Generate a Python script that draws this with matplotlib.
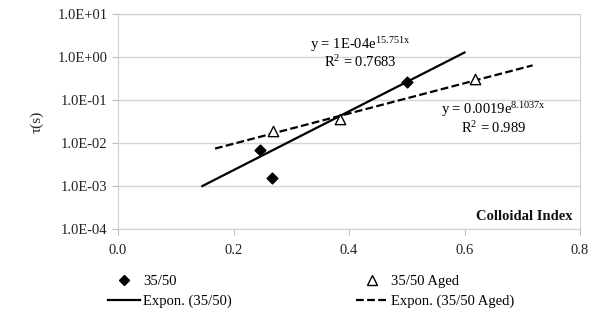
import numpy as np
import matplotlib.pyplot as plt
from matplotlib.lines import Line2D

plt.rcParams['font.family'] = ['Liberation Serif', 'DejaVu Serif']
plt.rcParams['mathtext.fontset'] = 'custom'
plt.rcParams['mathtext.rm'] = 'Liberation Serif'
plt.rcParams['mathtext.it'] = 'Liberation Serif'

# data
ci_plain = [0.246, 0.267, 0.500]
tau_plain = [0.0069, 0.00155, 0.26]
ci_aged = [0.268, 0.384, 0.618]
tau_aged = [0.019, 0.036, 0.31]

# exponential trendlines as printed on the chart
fit_plain = (1e-4, 15.751, 0.7683)
fit_aged = (0.0019, 8.1037, 0.989)
forecast = 0.1

xticks = [0.0, 0.2, 0.4, 0.6, 0.8]
yticks = [1e-4, 1e-3, 1e-2, 1e-1, 1e0, 1e1]
ylabels = ['1.0E-04', '1.0E-03', '1.0E-02', '1.0E-01', '1.0E+00', '1.0E+01']

fig = plt.figure(figsize=(6.07, 3.27), dpi=100)
ax = fig.add_axes([118 / 607, 1 - 229 / 327, (580 - 118) / 607, (229 - 14) / 327])

def trend(xs, fit):
    x = np.linspace(min(xs) - forecast, max(xs) + forecast, 100)
    return x, fit[0] * np.exp(fit[1] * x)

tx, ty = trend(ci_plain, fit_plain)
ax.plot(tx, ty, color='black', lw=1.6, zorder=3)
tx, ty = trend(ci_aged, fit_aged)
ax.plot(tx, ty, color='black', lw=1.6, ls=(0, (3.5, 1.5)), zorder=3)

ax.scatter(ci_plain, tau_plain, marker='D', s=30, color='black', zorder=4)
ax.scatter(ci_aged, tau_aged, marker='^', s=55, facecolor='white', edgecolor='black',
           linewidths=1.0, zorder=4)

ax.set_yscale('log')
ax.set_xlim(0, 0.8)
ax.set_ylim(1e-4, 1e1)
ax.set_xticks(xticks)
ax.set_xticklabels([f'{v:.1f}' for v in xticks])
ax.set_yticks(yticks)
ax.set_yticklabels(ylabels)
ax.minorticks_off()
ax.yaxis.grid(True, color='#d4d4d4', lw=1)
ax.set_axisbelow(True)
for s in ax.spines.values():
    s.set_color('#d0d0d0')
ax.tick_params(axis='both', colors='#bdbdbd', labelcolor='#222222', labelsize=10.5, length=4)
ax.tick_params(axis='x', pad=7)
ax.set_ylabel('τ(s)', fontsize=11, color='#222222', labelpad=10)

ax.text(0.985, 0.056, 'Colloidal Index', transform=ax.transAxes, ha='right', va='center',
        fontsize=10.5, fontweight='bold', color='#111111')

def eq_text(fit):
    a = '1E-04' if fit[0] < 1e-3 else f'{fit[0]:g}'
    return f'y = {a}e$^{{\\mathrm{{{fit[1]:g}x}}}}$\nR$^{{\\mathrm{{2}}}}$ = {fit[2]:g}'

ax.text(0.524, 0.82, eq_text(fit_plain), transform=ax.transAxes,
        ha='center', va='center', fontsize=10.5, linespacing=1.05)
ax.text(0.812, 0.515, eq_text(fit_aged), transform=ax.transAxes,
        ha='center', va='center', fontsize=10.5, linespacing=1.05)

# legend below the plot (column-wise fill -> row order as in the chart)
handles = [
    Line2D([], [], ls='none', marker='D', ms=5, color='black'),
    Line2D([], [], color='black', lw=1.6),
    Line2D([], [], ls='none', marker='^', ms=7, mfc='white', mec='black'),
    Line2D([], [], color='black', lw=1.6, ls=(0, (3.5, 1.5))),
]
labels = ['35/50', 'Expon. (35/50)', '35/50 Aged', 'Expon. (35/50 Aged)']
fig.legend(handles, labels, ncol=2, loc='upper left', bbox_to_anchor=(95 / 607, 1 - 262 / 327),
           frameon=False, fontsize=10.5, columnspacing=8.5, handlelength=2.2,
           handletextpad=0.2, labelspacing=0.45)

fig.savefig('out.png', dpi=100)
